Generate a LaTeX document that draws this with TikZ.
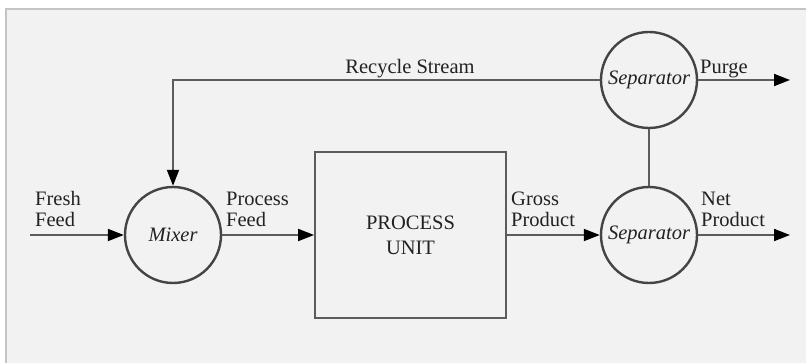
\documentclass[tikz,border=0pt]{standalone}
\usepackage{fontspec}
\setmainfont{Liberation Serif}
\usetikzlibrary{arrows.meta}

\definecolor{panel}{HTML}{F2F2F2}
\definecolor{frameline}{HTML}{C4C4C4}
\definecolor{flowline}{HTML}{5C5C5C}
\definecolor{unitline}{HTML}{444444}
\definecolor{txt}{HTML}{222222}

\tikzset{
  unitcircle/.style={circle, draw=unitline, line width=2.4pt, minimum size=96pt,
    inner sep=0pt, font=\fontsize{20.5}{22}\selectfont\itshape, text=txt},
  unitbox/.style={rectangle, draw=flowline, line width=1.8pt, minimum width=191pt,
    minimum height=166pt, inner sep=0pt, align=center,
    font=\fontsize{20.5}{25}\selectfont, text=txt},
  stream/.style={draw=flowline, line width=1.8pt,
    -{Triangle[length=16pt,width=12pt,color=black]}},
  plainline/.style={draw=flowline, line width=1.8pt},
  streamlabel/.style={inner sep=0pt, align=left, anchor=base west,
    font=\fontsize{20.5}{21.5}\selectfont, text=txt},
}

\begin{document}
\begin{tikzpicture}[x=1pt,y=-1pt]
  \useasboundingbox (0,0) rectangle (806,363);
  % panel background with its top and left frame edges
  \fill[white] (0,0) rectangle (806,363);
  \fill[panel] (6,9) rectangle (806,363);
  \draw[frameline, line width=1.2pt] (6,363) -- (6,9) -- (806,9);

  % units
  \node[unitcircle] (mixer) at (173,235) {Mixer};
  \node[unitbox] (proc) at (410.5,235) {PROCESS\\UNIT};
  \node[unitcircle] (sepB) at (649,235) {Separator};
  \node[unitcircle] (sepT) at (649,80) {Separator};

  % free ends
  \coordinate (feedin) at (30,235);
  \coordinate (netout) at (790,235);
  \coordinate (purgeout) at (790,80);
  \coordinate (bend) at (173,80);

  % streams
  \draw[stream] (feedin) -- (mixer.west);
  \draw[stream] (mixer.east) -- (proc.west);
  \draw[stream] (proc.east) -- (sepB.west);
  \draw[stream] (sepB.east) -- (netout);
  \draw[stream] (sepT.east) -- (purgeout);
  \draw[plainline] (sepB.north) -- (sepT.south);
  \draw[stream] (sepT.west) -- (bend) -- (mixer.north);

  % stream labels (base anchor sits on the last line)
  \node[streamlabel] (lfresh) at (35,227) {Fresh\\Feed};
  \node[streamlabel] (lprocess) at (226,227) {Process\\Feed};
  \node[streamlabel] (lgross) at (511,227) {Gross\\Product};
  \node[streamlabel] (lnet) at (701,227) {Net\\Product};
  \node[streamlabel] (lpurge) at (700,74) {Purge};
  \node[streamlabel, anchor=base] (lrecycle) at (410,74) {Recycle Stream};
\end{tikzpicture}
\end{document}
